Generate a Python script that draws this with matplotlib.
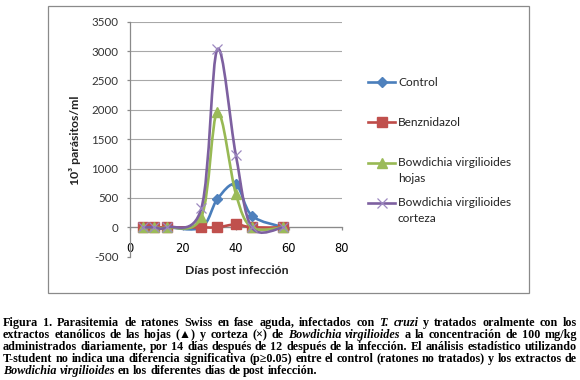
import numpy as np
import matplotlib
matplotlib.use("Agg")
import matplotlib.pyplot as plt
from matplotlib.path import Path
from matplotlib.patches import PathPatch, Rectangle
from matplotlib.lines import Line2D

# ---------------- data ----------------
days = [5, 9, 14, 27, 33, 40, 46, 58]
control = [0, 0, 0, 0, 480, 730, 200, 0]
benznidazol = [0, 0, 0, 0, 0, 50, 0, 0]
hojas = [0, 0, 0, 180, 1960, 570, 0, 0]
corteza = [0, 0, 0, 330, 3030, 1230, 0, 0]

series_names = ["Control", "Benznidazol", "Bowdichia virgilioides\nhojas",
                "Bowdichia virgilioides\ncorteza"]
x_ticks = [0, 20, 40, 60, 80]
y_ticks = [-500, 0, 500, 1000, 1500, 2000, 2500, 3000, 3500]
x_label = "Días post infección"
y_label = "10³ parásitos/ml"

caption_lines = [
    "Figura 1. Parasitemia de ratones Swiss en fase aguda, infectados con _T._ _cruzi_ y tratados oralmente con los",
    "extractos etanólicos de las hojas (▲) y corteza (×) de _Bowdichia_ _virgilioides_ a la concentración de 100 mg/kg",
    "administrados diariamente, por 14 días después de 12 después de la infección. El análisis estadístico utilizando",
    "T-student no indica una diferencia significativa (p≥0.05) entre el control (ratones no tratados) y los extractos de",
    "_Bowdichia_ _virgilioides_ en los diferentes días de  post infección.",
]

# ---------------- styling ----------------
W, H = 580, 380
SANS = ["Lato", "DejaVu Sans"]
SERIF = ["Liberation Serif", "DejaVu Serif"]
line_colors = ["#4A7EBB", "#BE4B48", "#98B954", "#7D60A0"]
mk_colors = ["#4F81BD", "#C0504D", "#9BBB59", "#8064A2"]
markers = ["D", "s", "^", "x"]
msizes = [5, 6.5, 7, 6.5]
TICK_FS = 8.3
LEG_FS = 8.6
LAB_FS = 8.8

fig = plt.figure(figsize=(W / 100, H / 100), dpi=100)
fig.patch.set_facecolor("white")


def fx(px):
    return px / W


def fy(py):
    return 1 - py / H


ax = fig.add_axes([fx(130), fy(256.7), fx(341.7) - fx(130), fy(21.7) - fy(256.7)])
ax.set_xlim(0, 80)
ax.set_ylim(-500, 3500)
ax.set_xticks(x_ticks)
ax.set_yticks(y_ticks)
ax.set_xticklabels([str(v) for v in x_ticks], family=SANS, fontsize=TICK_FS, color="#333333")
ax.set_yticklabels([str(v) for v in y_ticks], family=SANS, fontsize=TICK_FS, color="#333333")
for s in ["top", "right"]:
    ax.spines[s].set_visible(False)
ax.spines["bottom"].set_position(("data", 0))
for s in ["left", "bottom"]:
    ax.spines[s].set_color("#8a8a8a")
    ax.spines[s].set_linewidth(0.9)
ax.tick_params(axis="y", direction="out", length=2.5, pad=5.8, color="#8a8a8a", width=0.9,
               labelsize=TICK_FS)
ax.tick_params(axis="x", direction="out", length=2.5, pad=8.0, color="#8a8a8a", width=0.9,
               labelsize=TICK_FS)
ax.set_axisbelow(True)
ax.yaxis.grid(True, color="#a8a8a8", linewidth=0.8)
ax.get_ygridlines()[0].set_visible(False)


def smooth_path(x, y):
    x = np.asarray(x, float)
    y = np.asarray(y, float)
    n = len(x)
    verts = [(x[0], y[0])]
    codes = [Path.MOVETO]
    for i in range(n - 1):
        p0 = i - 1 if i > 0 else i
        p3 = i + 2 if i + 2 < n else i + 1
        c1 = (x[i] + (x[i + 1] - x[p0]) / 6, y[i] + (y[i + 1] - y[p0]) / 6)
        c2 = (x[i + 1] - (x[p3] - x[i]) / 6, y[i + 1] - (y[p3] - y[i]) / 6)
        verts += [c1, c2, (x[i + 1], y[i + 1])]
        codes += [Path.CURVE4] * 3
    return Path(verts, codes)


all_series = [control, benznidazol, hojas, corteza]
for k, vals in enumerate(all_series):
    patch = PathPatch(smooth_path(days, vals), fill=False, edgecolor=line_colors[k],
                      linewidth=1.9, transform=ax.transData, zorder=3 + 2 * k,
                      capstyle="round", joinstyle="round")
    ax.add_patch(patch)
    if markers[k] == "x":
        ax.plot(days, vals, linestyle="none", marker="x", markersize=msizes[k],
                markeredgecolor="#9C88C0", markeredgewidth=0.9, zorder=4 + 2 * k, clip_on=False)
    else:
        ax.plot(days, vals, linestyle="none", marker=markers[k], markersize=msizes[k],
                markerfacecolor=mk_colors[k], markeredgecolor=mk_colors[k], zorder=4 + 2 * k,
                clip_on=False)

# axis titles placed in figure pixel coordinates
fig.text(fx(236.5), fy(271), x_label, family=SANS, fontsize=LAB_FS, fontweight="bold",
         color="#222222", ha="center", va="center")
fig.text(fx(75), fy(140), y_label, family=SANS, fontsize=LAB_FS, fontweight="bold",
         color="#222222", ha="center", va="center", rotation=90)

# ---------------- legend (manual) ----------------
leg_y = [82, 122, 163, 203]
for k, name in enumerate(series_names):
    y = fy(leg_y[k])
    fig.add_artist(Line2D([fx(368), fx(395)], [y, y], color=line_colors[k], linewidth=1.9,
                          transform=fig.transFigure))
    if markers[k] == "x":
        fig.add_artist(Line2D([fx(381.5)], [y], marker="x", markersize=msizes[k],
                              markeredgecolor="#9C88C0", markeredgewidth=0.9,
                              linestyle="none", transform=fig.transFigure))
    else:
        fig.add_artist(Line2D([fx(381.5)], [y], marker=markers[k], markersize=msizes[k],
                              markerfacecolor=mk_colors[k], markeredgecolor=mk_colors[k],
                              linestyle="none", transform=fig.transFigure))
    for j, part in enumerate(name.split("\n")):
        fig.text(fx(398), fy(leg_y[k] + 15.5 * j), part, family=SANS, fontsize=LEG_FS,
                 color="#222222", ha="left", va="center")

# chart border
fig.add_artist(Rectangle((fx(48.3), fy(293.3)), fx(528.7) - fx(48.3), fy(5.7) - fy(293.3),
                         fill=False, edgecolor="#8a8a8a", linewidth=0.9,
                         transform=fig.transFigure))

# ---------------- caption (justified word by word) ----------------
renderer = fig.canvas.get_renderer()
x_left, x_right = 3, 577
baselines = [326, 338, 350, 362, 374]

try:
    from matplotlib.backends.backend_agg import get_hinting_flag
except Exception:  # pragma: no cover
    get_hinting_flag = None


def snapped_top_y(word, prop, target_row):
    """Top-origin y for the text anchor so that the glyph baseline of this
    word lands on the integer pixel row target_row (avoids word jitter)."""
    try:
        font = renderer._prepare_font(prop)
        font.set_text(word, 0, flags=get_hinting_flag())
        D26 = font.get_descent()
        _, h26 = font.get_width_height()
        ymax26 = h26 - D26
        K = target_row + (h26 // 64) - (ymax26 // 64)
        return K - D26 / 64.0
    except Exception:
        return float(target_row)


def word_props(w):
    ital = len(w) > 2 and w.startswith("_") and w.endswith("_")
    return (w[1:-1] if ital else w), ital


def measure(size):
    out = []
    for line in caption_lines:
        words = [word_props(w) for w in line.split(" ") if w != ""]
        ws = []
        for w, ital in words:
            t = fig.text(0, 0, w, family=SERIF, fontsize=size, fontweight="bold",
                         fontstyle="italic" if ital else "normal")
            ws.append(t.get_window_extent(renderer).width)
            t.remove()
        out.append((words, ws))
    return out


ref_size = 10.0
meas = measure(ref_size)
space_ratio = 0.25 * 100 / 72
need = max(sum(ws) + (len(ws) - 1) * space_ratio * ref_size for _, ws in meas[:-1])
CAP_SIZE = ref_size * (x_right - x_left) / need
meas = measure(CAP_SIZE)

for li, (words, widths) in enumerate(meas):
    total = sum(widths)
    last = li == len(caption_lines) - 1
    if last:
        gap = CAP_SIZE * space_ratio
    else:
        gap = (x_right - x_left - total) / (len(words) - 1)
    xpos = x_left
    for (w, ital), wdt in zip(words, widths):
        t = fig.text(fx(xpos), 0, w, family=SERIF, fontsize=CAP_SIZE,
                     fontweight="bold", fontstyle="italic" if ital else "normal",
                     ha="left", va="baseline", color="black")
        ytop = snapped_top_y(w, t.get_fontproperties(), baselines[li])
        t.set_y(fy(ytop))
        xpos += wdt + gap

fig.savefig("out.png", dpi=100, facecolor="white")
